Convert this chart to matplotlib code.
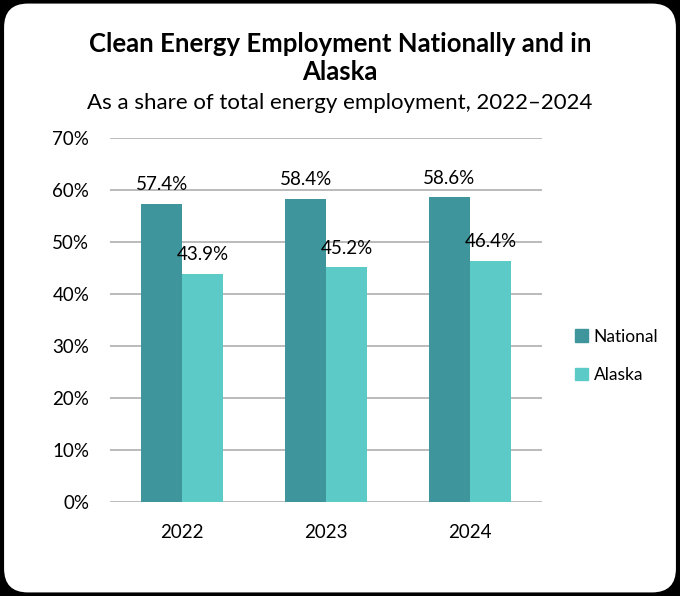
import matplotlib

matplotlib.use("Agg")
import matplotlib.pyplot as plt
import numpy as np
from matplotlib.patches import FancyBboxPatch, Patch

years = ["2022", "2023", "2024"]
national = [57.4, 58.4, 58.6]
alaska = [43.9, 45.2, 46.4]
series_names = ["National", "Alaska"]
y_ticks = [0, 10, 20, 30, 40, 50, 60, 70]

C_NAT = "#3f959c"
C_AK = "#5ccac6"
GRID = "#b5b5b5"

plt.rcParams["font.family"] = ["Lato", "DejaVu Sans"]

fig = plt.figure(figsize=(6.8, 5.96), dpi=100)
fig.patch.set_facecolor("black")
card = FancyBboxPatch(
    (0.006, 0.006), 0.988, 0.988,
    boxstyle="round,pad=0,rounding_size=0.035",
    transform=fig.transFigure, facecolor="white", edgecolor="none",
    mutation_aspect=680 / 596, zorder=-10,
)
fig.patches.append(card)

ax = fig.add_axes([0.162, 0.158, 0.635, 0.610])
ax.patch.set_alpha(0)
x = np.arange(len(years))
w = 0.285
b1 = ax.bar(x - w / 2, national, w, color=C_NAT, zorder=2)
b2 = ax.bar(x + w / 2, alaska, w, color=C_AK, zorder=2)
for bars, vals in ((b1, national), (b2, alaska)):
    for r, v in zip(bars, vals):
        ax.text(r.get_x() + r.get_width() / 2, v + 2.0, f"{v:.1f}%",
                ha="center", va="bottom", fontsize=13.5, color="black")

ax.set_xlim(-0.5, len(years) - 0.5)
ax.set_ylim(0, 70)
ax.set_yticks(y_ticks)
ax.set_yticklabels([f"{t}%" for t in y_ticks])
ax.set_xticks(x)
ax.set_xticklabels(years)
ax.tick_params(axis="both", length=0, labelsize=13.5, colors="black")
ax.tick_params(axis="y", pad=15)
ax.tick_params(axis="x", pad=16)
ax.yaxis.grid(True, color=GRID, lw=1.3, zorder=0)
ax.set_axisbelow(True)
for s in ax.spines.values():
    s.set_visible(False)

handles = [Patch(color=C_NAT), Patch(color=C_AK)]
fig.legend(handles, series_names, loc="center left", bbox_to_anchor=(0.822, 0.403),
           frameon=False, fontsize=12.5, handlelength=0.75, handleheight=0.75,
           handletextpad=0.35, labelspacing=1.3)

fig.text(0.5, 0.903, "Clean Energy Employment Nationally and in\nAlaska",
         ha="center", va="center", fontsize=18.5, fontweight="bold", linespacing=1.2)
fig.text(0.5, 0.827, "As a share of total energy employment, 2022\u20132024",
         ha="center", va="center", fontsize=16)

fig.savefig("out.png", dpi=100, facecolor=fig.get_facecolor())
